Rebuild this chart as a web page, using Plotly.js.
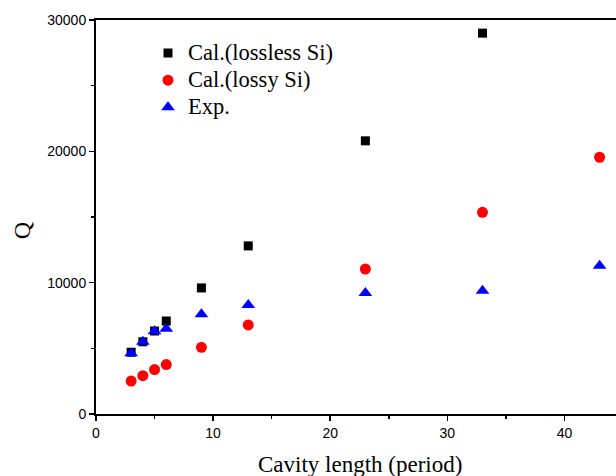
<!DOCTYPE html>
<html>
<head>
<meta charset="utf-8">
<script src="https://cdn.plot.ly/plotly-3.0.1.min.js"></script>
<style>html,body{margin:0;padding:0;background:#fff;}#chart{width:616px;height:476px;}</style>
</head>
<body>
<div id="chart"></div>
<script>
const xLossless = [3, 4, 5, 6, 9, 13, 23, 33];
const qLossless = [4700, 5500, 6320, 7080, 9600, 12800, 20800, 29000];
const xLossy = [3, 4, 5, 6, 9, 13, 23, 33, 43];
const qLossy = [2510, 2920, 3380, 3760, 5080, 6780, 11040, 15360, 19550];
const xExp = [3, 4, 5, 6, 9, 13, 23, 33, 43];
const qExp = [4620, 5500, 6300, 6500, 7590, 8300, 9210, 9390, 11290];
const seriesNames = ['Cal.(lossless Si)', 'Cal.(lossy Si)', 'Exp.'];
const xTitle = 'Cavity length (period)';
const yTitle = 'Q';

const serif = 'Liberation Serif, Times New Roman, serif';
const big = s => '<span style="font-size:22.5px">' + s + '</span>';

const traces = [
  {x: xLossless, y: qLossless, name: big(seriesNames[0]), mode: 'markers', type: 'scatter',
   marker: {symbol: 'square', size: 9, color: '#000000'}},
  {x: xLossy, y: qLossy, name: big(seriesNames[1]), mode: 'markers', type: 'scatter',
   marker: {symbol: 'circle', size: 11, color: '#ff0000'}},
  {x: xExp, y: qExp, name: big(seriesNames[2]), mode: 'markers', type: 'scatter',
   marker: {symbol: 'triangle-up', size: 12, color: '#0000ff'}}
];

const layout = {
  width: 616, height: 476,
  margin: {l: 96, r: 0, t: 20, b: 62},
  paper_bgcolor: '#ffffff', plot_bgcolor: '#ffffff',
  showlegend: true,
  legend: {x: 0.1, y: 0.963, xanchor: 'left', yanchor: 'top', bgcolor: 'rgba(0,0,0,0)',
           font: {family: serif, size: 18.5, color: '#000'}},
  xaxis: {
    range: [0, 44.4], showgrid: false, zeroline: false,
    showline: true, linecolor: '#000', linewidth: 2, mirror: true,
    ticks: 'outside', ticklen: 5, tickwidth: 1.5, tickcolor: '#000',
    tick0: 0, dtick: 10,
    minor: {ticks: 'outside', ticklen: 3, tickwidth: 1.5, tickcolor: '#000', dtick: 5},
    tickfont: {family: 'Liberation Sans, Arial, sans-serif', size: 14, color: '#000'}
  },
  yaxis: {
    range: [0, 30000], showgrid: false, zeroline: false,
    showline: true, linecolor: '#000', linewidth: 2, mirror: false,
    ticks: 'outside', ticklen: 5, tickwidth: 1.5, tickcolor: '#000',
    tick0: 0, dtick: 10000,
    minor: {ticks: 'outside', ticklen: 3, tickwidth: 1.5, tickcolor: '#000', dtick: 5000},
    tickfont: {family: 'Liberation Sans, Arial, sans-serif', size: 14, color: '#000'},
    tickformat: 'd'
  },
  annotations: [
    {text: yTitle, xref: 'paper', yref: 'paper', x: -0.142, y: 0.464, showarrow: false,
     textangle: -90, xanchor: 'center', yanchor: 'middle',
     font: {family: serif, size: 24, color: '#000'}},
    {text: xTitle, xref: 'paper', yref: 'paper', x: 0.5077, y: -0.129, showarrow: false,
     xanchor: 'center', yanchor: 'middle',
     font: {family: serif, size: 23, color: '#000'}}
  ]
};

Plotly.newPlot('chart', traces, layout, {displayModeBar: false, staticPlot: true});
</script>
</body>
</html>
